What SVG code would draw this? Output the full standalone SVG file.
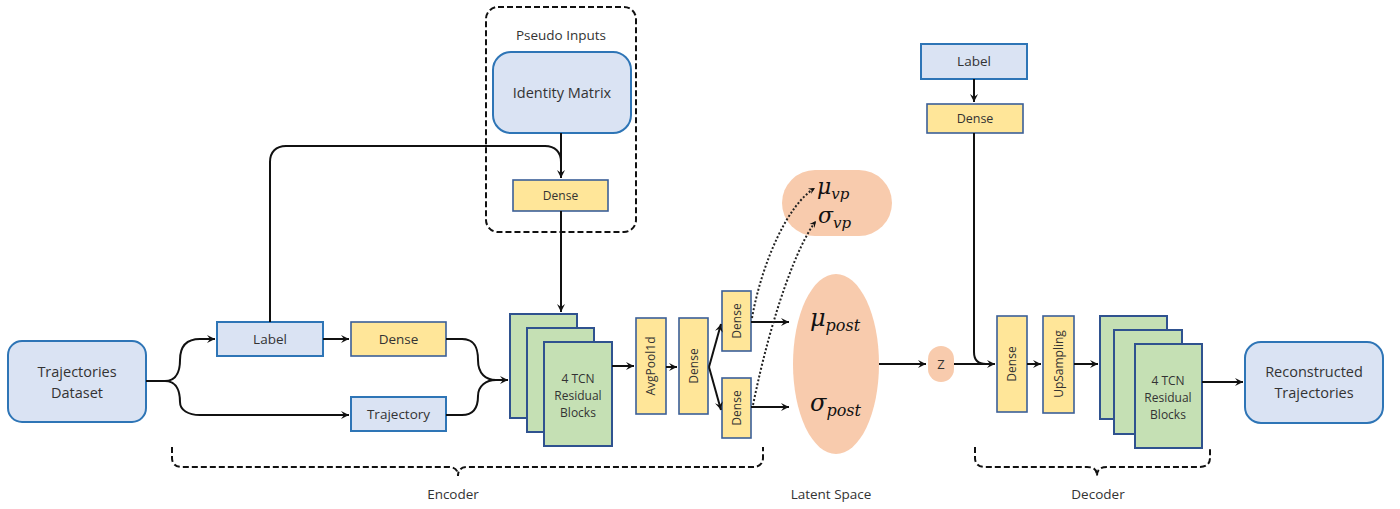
<svg xmlns="http://www.w3.org/2000/svg" width="1400" height="509" viewBox="0 0 1400 509">
  <defs>
    <style>
      .blue { fill: #dae3f3; stroke: #2e75b6; stroke-width: 2; }
      .yel { fill: #ffe699; stroke: #3b5f98; stroke-width: 1.6; }
      .grn { fill: #c5e0b4; stroke: #2f528f; stroke-width: 2; }
      .peach { fill: #f8cbad; stroke: none; }
      .t { font-family: "Open Sans", "Noto Sans", sans-serif; fill: #333; text-anchor: middle; }
      .m { font-family: "DejaVu Serif", "Liberation Serif", serif; font-style: italic; fill: #111; }
      .ln { fill: none; stroke: #111; stroke-width: 2; }
      .dot { fill: none; stroke: #222; stroke-width: 2; stroke-dasharray: 2 2; }
      .dash { fill: none; stroke: #111; stroke-width: 2; stroke-dasharray: 6 3; }
    </style>
    <marker id="ah" viewBox="0 0 10 10" refX="9" refY="5" markerWidth="5" markerHeight="5" orient="auto">
      <path d="M1,1 L9,5 L1,9 L4,5 Z" fill="#111"/>
    </marker>
    <marker id="ahs" viewBox="0 0 10 10" refX="9" refY="5" markerWidth="4" markerHeight="4" orient="auto">
      <path d="M1,1 L9,5 L1,9 L4,5 Z" fill="#111"/>
    </marker>
  </defs>
  <rect width="1400" height="509" fill="#fff"/>

  <g id="dataset">
    <rect class="blue" x="8" y="341" width="138" height="81" rx="14"/>
    <text class="t" x="77" y="377" font-size="14.5">Trajectories</text>
    <text class="t" x="77" y="398" font-size="14.5">Dataset</text>
  </g>
  <g id="label-enc">
    <rect class="blue" x="217" y="322" width="106" height="34"/>
    <text class="t" x="270" y="344" font-size="13.5">Label</text>
  </g>
  <g id="dense-label-enc">
    <rect class="yel" x="351" y="322" width="95" height="34"/>
    <text class="t" x="398.5" y="344" font-size="13.5">Dense</text>
  </g>
  <g id="trajectory">
    <rect class="blue" x="351" y="397" width="95" height="34"/>
    <text class="t" x="398.5" y="419" font-size="13.5">Trajectory</text>
  </g>

  <g id="pseudo-inputs">
    <rect class="dash" x="486" y="7" width="150" height="225" rx="12"/>
    <text class="t" x="561" y="40" font-size="13.5">Pseudo Inputs</text>
  </g>
  <g id="identity">
    <rect class="blue" x="493" y="52" width="138" height="81" rx="18"/>
    <text class="t" x="562" y="98" font-size="14.5">Identity Matrix</text>
  </g>
  <g id="dense-pseudo">
    <rect class="yel" x="513" y="180" width="95" height="31"/>
    <text class="t" x="560.5" y="200" font-size="12">Dense</text>
  </g>

  <g id="tcn-enc">
    <rect class="grn" x="510" y="314" width="67" height="104"/>
    <rect class="grn" x="527" y="328" width="67" height="104"/>
    <rect class="grn" x="544" y="342" width="68" height="104"/>
    <text class="t" x="578" y="383" font-size="12">4 TCN</text>
    <text class="t" x="578" y="400" font-size="12">Residual</text>
    <text class="t" x="578" y="417" font-size="12">Blocks</text>
  </g>
  <g id="avgpool">
    <rect class="yel" x="636" y="318" width="30" height="96"/>
    <text class="t" font-size="12" transform="translate(655,366) rotate(-90)">AvgPool1d</text>
  </g>
  <g id="dense-enc">
    <rect class="yel" x="679" y="318" width="29" height="96"/>
    <text class="t" font-size="12" transform="translate(698,366) rotate(-90)">Dense</text>
  </g>
  <g id="dense-mu">
    <rect class="yel" x="722" y="291" width="29" height="60"/>
    <text class="t" font-size="12" transform="translate(741,321) rotate(-90)">Dense</text>
  </g>
  <g id="dense-sigma">
    <rect class="yel" x="722" y="378" width="29" height="60"/>
    <text class="t" font-size="12" transform="translate(741,408) rotate(-90)">Dense</text>
  </g>

  <g id="prior">
    <rect class="peach" x="782" y="170" width="110" height="66" rx="33"/>
    <text class="m" x="817" y="194" font-size="22">μ<tspan font-size="15" dy="5">vp</tspan></text>
    <text class="m" x="818" y="223" font-size="22">σ<tspan font-size="15" dy="5">vp</tspan></text>
  </g>
  <g id="posterior">
    <ellipse class="peach" cx="836" cy="364" rx="43" ry="90"/>
    <text class="m" x="810" y="326" font-size="24">μ<tspan font-size="16" dy="5">post</tspan></text>
    <text class="m" x="810" y="411" font-size="24">σ<tspan font-size="16" dy="5">post</tspan></text>
  </g>
  <g id="z">
    <rect class="peach" x="928" y="346" width="26" height="36" rx="13"/>
    <text class="t" x="941" y="369" font-size="13">Z</text>
  </g>

  <g id="label-dec">
    <rect class="blue" x="921" y="44" width="106" height="35"/>
    <text class="t" x="974" y="66" font-size="13.5">Label</text>
  </g>
  <g id="dense-label-dec">
    <rect class="yel" x="927" y="104" width="96" height="29"/>
    <text class="t" x="975" y="123" font-size="12.5">Dense</text>
  </g>
  <g id="dense-dec">
    <rect class="yel" x="997" y="316" width="30" height="96"/>
    <text class="t" font-size="12" transform="translate(1016,364) rotate(-90)">Dense</text>
  </g>
  <g id="upsampling">
    <rect class="yel" x="1043" y="316" width="31" height="97"/>
    <text class="t" font-size="12" transform="translate(1063,364) rotate(-90)">UpSampling</text>
  </g>
  <g id="tcn-dec">
    <rect class="grn" x="1100" y="316" width="67" height="103"/>
    <rect class="grn" x="1114" y="330" width="68" height="104"/>
    <rect class="grn" x="1135" y="344" width="67" height="104"/>
    <text class="t" x="1168" y="385" font-size="12">4 TCN</text>
    <text class="t" x="1168" y="402" font-size="12">Residual</text>
    <text class="t" x="1168" y="419" font-size="12">Blocks</text>
  </g>
  <g id="reconstructed">
    <rect class="blue" x="1245" y="342" width="138" height="81" rx="16"/>
    <text class="t" x="1314" y="377" font-size="14.5">Reconstructed</text>
    <text class="t" x="1314" y="398" font-size="14.5">Trajectories</text>
  </g>

  <g id="section-labels">
    <text class="t" x="453" y="499" font-size="13.5">Encoder</text>
    <text class="t" x="831" y="499" font-size="13.5">Latent Space</text>
    <text class="t" x="1098" y="499" font-size="13.5">Decoder</text>
  </g>

  <!-- connectors (drawn last so the dotted links sit on top of the prior pill) -->
  <g id="connectors">
    <!-- dataset split -->
    <path class="ln" d="M146,381 H165 C178,381 180,368 180,360 C180,345 188,339 200,339 H215" marker-end="url(#ah)"/>
    <path class="ln" d="M165,381 C178,381 180,394 180,402 C180,410 188,415 200,415 H349" marker-end="url(#ah)"/>
    <!-- label -> dense -->
    <path class="ln" d="M323,339 H349" marker-end="url(#ah)"/>
    <!-- label up to pseudo-input dense -->
    <path class="ln" d="M270,322 V162 C270,152 276,146 286,146 H545 C555,146 561,152 561,162"/>
    <path class="ln" d="M561,133 V178" marker-end="url(#ah)"/>
    <path class="ln" d="M561,211 V312" marker-end="url(#ah)"/>
    <!-- merge into TCN -->
    <path class="ln" d="M446,339 H462 C476,339 478,350 478,360 C478,374 486,380 496,380 H508" marker-end="url(#ah)"/>
    <path class="ln" d="M446,415 H462 C476,415 478,404 478,396 C478,386 486,380 496,380"/>
    <!-- encoder chain -->
    <path class="ln" d="M612,366 H634" marker-end="url(#ah)"/>
    <path class="ln" d="M666,367 H677" marker-end="url(#ah)"/>
    <path class="ln" d="M709,367 L721,324" marker-end="url(#ah)"/>
    <path class="ln" d="M709,367 L721,410" marker-end="url(#ah)"/>
    <path class="ln" d="M751,322 H789" marker-end="url(#ah)"/>
    <path class="ln" d="M751,407 H789" marker-end="url(#ah)"/>
    <!-- dotted links to prior -->
    <path class="dot" d="M752,318 C762,262 788,204 815,188" marker-end="url(#ahs)"/>
    <path class="dot" d="M753,405 C772,312 798,244 816,221" marker-end="url(#ahs)"/>
    <!-- latent -> z -> decoder -->
    <path class="ln" d="M879,364 H926" marker-end="url(#ah)"/>
    <path class="ln" d="M954,364 H995" marker-end="url(#ah)"/>
    <path class="ln" d="M974,79 V102" marker-end="url(#ah)"/>
    <path class="ln" d="M974,133 V352 C974,360 978,364 986,364 H995"/>
    <path class="ln" d="M1027,364 H1041" marker-end="url(#ah)"/>
    <path class="ln" d="M1074,364 H1098" marker-end="url(#ah)"/>
    <path class="ln" d="M1202,382 H1243" marker-end="url(#ah)"/>
    <!-- section braces -->
    <path class="dash" d="M172,447 V458 C172,464 176,467 182,467 H448 C454,467 458,469 458,476 C458,469 462,467 468,467 H753 C759,467 763,464 763,458 V447"/>
    <path class="dash" d="M975,447 V458 C975,464 979,467 985,467 H1087 C1093,467 1097,469 1097,476 C1097,469 1101,467 1107,467 H1200 C1206,467 1210,464 1210,458 V447"/>
  </g>
</svg>
